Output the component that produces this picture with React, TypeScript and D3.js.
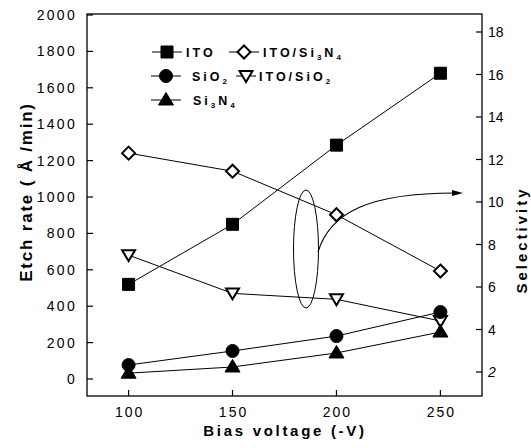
import React from 'react';
import * as d3 from 'd3';

// ---- data ----
const voltages = [100, 150, 200, 250];
const itoRate = [520, 850, 1285, 1680];
const sio2Rate = [77, 154, 236, 368];
const si3n4Rate = [32, 66, 143, 258];
const selItoSi3n4 = [12.3, 11.45, 9.4, 6.75];
const selItoSio2 = [7.5, 5.7, 5.42, 4.4];
const xTicks = [100, 150, 200, 250];
const leftTicks = [0, 200, 400, 600, 800, 1000, 1200, 1400, 1600, 1800, 2000];
const rightTicks = [2, 4, 6, 8, 10, 12, 14, 16, 18];

const W = 531;
const H = 448;
const FL = 87, FR = 482, FT = 14, FB = 396;
const FONT = "'Liberation Sans', Arial, Helvetica, sans-serif";

const x = d3.scaleLinear().domain([80, 270]).range([FL, FR]);
const yL = d3.scaleLinear().domain([0, 2000]).range([379, 15]);
const yR = d3.scaleLinear().domain([2, 18]).range([372, 32]);

type Shape = 'square' | 'circle' | 'triUp' | 'triDown' | 'diamond';

function markerPath(shape: Shape): string {
  switch (shape) {
    case 'square':
      return 'M-6,-6H6V6H-6Z';
    case 'circle':
      return 'M6.5,0A6.5,6.5 0 1,1 -6.5,0A6.5,6.5 0 1,1 6.5,0Z';
    case 'triUp':
      return 'M0,-7.5L7.5,5L-7.5,5Z';
    case 'triDown':
      return 'M-6.5,-5L6.5,-5L0,6Z';
    case 'diamond':
      return 'M0,-6.5L6.5,0L0,6.5L-6.5,0Z';
  }
}

function Marker({ shape, cx, cy }: { shape: Shape; cx: number; cy: number }) {
  const open = shape === 'triDown' || shape === 'diamond';
  return (
    <path
      d={markerPath(shape)}
      transform={`translate(${cx},${cy})`}
      fill={open ? '#fff' : '#000'}
      stroke="#000"
      strokeWidth={open ? 2 : 1}
      strokeLinejoin="miter"
    />
  );
}

interface Series {
  values: number[];
  scale: d3.ScaleLinear<number, number>;
  shape: Shape;
}

const seriesOpen: Series[] = [
  { values: selItoSi3n4, scale: yR, shape: 'diamond' },
  { values: selItoSio2, scale: yR, shape: 'triDown' },
];
const seriesFilled: Series[] = [
  { values: itoRate, scale: yL, shape: 'square' },
  { values: sio2Rate, scale: yL, shape: 'circle' },
  { values: si3n4Rate, scale: yL, shape: 'triUp' },
];
const allSeries = [...seriesOpen, ...seriesFilled];

function LegendItem({ x0, y0, shape, children, tx, half = 15 }: { x0: number; y0: number; shape: Shape; children: React.ReactNode; tx: number; half?: number }) {
  return (
    <g>
      <line x1={x0 - half} x2={x0 + half} y1={y0} y2={y0} stroke="#000" strokeWidth={1} />
      <Marker shape={shape} cx={x0} cy={y0} />
      <text x={tx} y={y0 + 5} fontFamily={FONT} fontWeight="bold" fontSize={12.5} letterSpacing={3}>
        {children}
      </text>
    </g>
  );
}

const Sub = ({ children }: { children: React.ReactNode }) => (
  <tspan fontSize={8} dy={3}>{children}</tspan>
);
const Up = ({ children }: { children: React.ReactNode }) => (
  <tspan dy={-3}>{children}</tspan>
);

export default function App() {
  const line = (scale: d3.ScaleLinear<number, number>) =>
    d3.line<number>().x((_, i) => x(voltages[i])).y((v) => scale(v));

  return (
    <svg width={W} height={H} style={{ position: 'absolute', left: 0, top: 0, background: '#fff' }}>
      <rect x={0} y={0} width={W} height={H} fill="#fff" />
      {/* frame */}
      <rect x={FL} y={FT} width={FR - FL} height={FB - FT} fill="none" stroke="#000" strokeWidth={1.3} />

      {/* left axis ticks */}
      {leftTicks.map((t) => (
        <g key={'l' + t}>
          <line x1={FL} x2={FL + 6} y1={yL(t)} y2={yL(t)} stroke="#000" strokeWidth={1.2} />
          <text x={77} y={yL(t) + 5} textAnchor="end" fontFamily={FONT} fontSize={14} letterSpacing={2.3}>
            {t}
          </text>
        </g>
      ))}

      {/* right axis ticks */}
      {rightTicks.map((t) => (
        <g key={'r' + t}>
          <line x1={FR - 6} x2={FR} y1={yR(t)} y2={yR(t)} stroke="#000" strokeWidth={1.2} />
          <text x={488} y={yR(t) + 5} fontFamily={FONT} fontSize={14} fontStyle={t === 2 ? 'italic' : 'normal'}>
            {t}
          </text>
        </g>
      ))}

      {/* x axis ticks */}
      {xTicks.map((t) => (
        <g key={'x' + t}>
          <line x1={x(t)} x2={x(t)} y1={FB} y2={FB - 6} stroke="#000" strokeWidth={1.2} />
          <text x={x(t) + 1} y={417} textAnchor="middle" fontFamily={FONT} fontSize={14} letterSpacing={2}>
            {t}
          </text>
        </g>
      ))}

      {/* axis titles */}
      <text x={285} y={436} textAnchor="middle" fontFamily={FONT} fontWeight="bold" fontSize={15} letterSpacing={2.7}>
        Bias voltage (-V)
      </text>
      <text
        transform="translate(32,192) rotate(-90)"
        textAnchor="middle"
        fontFamily={FONT}
        fontWeight="bold"
        fontSize={17}
        letterSpacing={1.8}
      >
        Etch rate ( Å /min)
      </text>
      <text
        transform="translate(527,240) rotate(-90)"
        textAnchor="middle"
        fontFamily={FONT}
        fontWeight="bold"
        fontSize={15}
        letterSpacing={3}
      >
        Selectivity
      </text>

      {/* series lines */}
      {allSeries.map((s, i) => (
        <path key={'ln' + i} d={line(s.scale)(s.values) || ''} fill="none" stroke="#000" strokeWidth={1} />
      ))}

      {/* markers: open first, then filled */}
      {allSeries.map((s, i) =>
        s.values.map((v, j) => <Marker key={`m${i}-${j}`} shape={s.shape} cx={x(voltages[j])} cy={s.scale(v)} />)
      )}

      {/* ellipse + arrow annotation */}
      <ellipse cx={306} cy={249} rx={12.5} ry={59} fill="none" stroke="#000" strokeWidth={1} />
      <path d="M318,252 C330,212 370,193 455,193" fill="none" stroke="#000" strokeWidth={1.1} />
      <path d="M463,193 L452,190 L452,196 Z" fill="#000" />

      {/* legend */}
      <LegendItem x0={167} y0={52} shape="square" tx={186}>ITO</LegendItem>
      <LegendItem x0={244} y0={52} shape="diamond" tx={263}>
        ITO/Si<Sub>3</Sub><Up>N</Up><Sub>4</Sub>
      </LegendItem>
      <LegendItem x0={166} y0={76} shape="circle" tx={192}>
        SiO<Sub>2</Sub>
      </LegendItem>
      <LegendItem x0={246} y0={76} shape="triDown" tx={259} half={10}>
        ITO/SiO<Sub>2</Sub>
      </LegendItem>
      <LegendItem x0={166} y0={100} shape="triUp" tx={193}>
        Si<Sub>3</Sub><Up>N</Up><Sub>4</Sub>
      </LegendItem>
    </svg>
  );
}
